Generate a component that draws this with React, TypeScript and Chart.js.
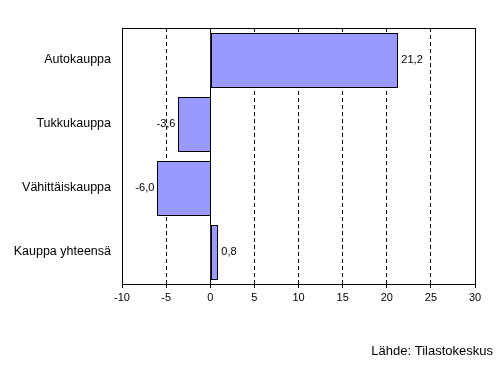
import React, { useEffect, useRef } from "react";
import { Chart, registerables } from "chart.js";

Chart.register(...registerables);

const categories = ["Autokauppa", "Tukkukauppa", "Vähittäiskauppa", "Kauppa yhteensä"];
const values = [21.2, -3.6, -6.0, 0.8];
const xMin = -10;
const xMax = 30;
const xStep = 5;
const sourceText = "Lähde: Tilastokeskus";

const FONT = "'Liberation Sans', Arial, sans-serif";
const BAR_COLOR = "#9999FF";

const extrasPlugin = {
  id: "extras",
  beforeDatasetsDraw(chart: any) {
    const { ctx, chartArea, scales } = chart;
    const x0 = Math.round(scales.x.getPixelForValue(0)) + 0.5;
    ctx.save();
    ctx.strokeStyle = "#000";
    ctx.lineWidth = 1;
    ctx.setLineDash([]);
    ctx.beginPath();
    ctx.moveTo(x0, chartArea.top);
    ctx.lineTo(x0, chartArea.bottom);
    ctx.stroke();
    ctx.restore();
  },
  afterDatasetsDraw(chart: any) {
    const { ctx, chartArea } = chart;
    ctx.save();
    ctx.strokeStyle = "#000";
    ctx.lineWidth = 1;
    ctx.setLineDash([]);
    const meta = chart.getDatasetMeta(0);
    // crisp bar fills + outlines aligned to the pixel grid
    meta.data.forEach((bar: any) => {
      const l = Math.round(Math.min(bar.x, bar.base));
      const r = Math.round(Math.max(bar.x, bar.base));
      const t = Math.round(bar.y - bar.height / 2);
      const b = Math.round(bar.y + bar.height / 2);
      ctx.fillStyle = BAR_COLOR;
      ctx.fillRect(l, t, r - l + 1, b - t + 1);
      ctx.strokeRect(l + 0.5, t + 0.5, r - l, b - t);
    });
    ctx.strokeRect(
      Math.round(chartArea.left) + 0.5,
      Math.round(chartArea.top) + 0.5,
      Math.round(chartArea.right - chartArea.left),
      Math.round(chartArea.bottom - chartArea.top)
    );
    // value labels
    ctx.font = `11px ${FONT}`;
    ctx.fillStyle = "#000";
    ctx.textBaseline = "middle";
    meta.data.forEach((bar: any, i: number) => {
      const v = values[i];
      const txt = v.toFixed(1).replace(".", ",");
      if (v >= 0) {
        ctx.textAlign = "left";
        ctx.fillText(txt, bar.x + 4, bar.y);
      } else {
        ctx.textAlign = "right";
        ctx.fillText(txt, bar.x - 3, bar.y);
      }
    });
    // source
    ctx.font = `13px ${FONT}`;
    ctx.textAlign = "right";
    ctx.fillText(sourceText, 493, 351);
    ctx.restore();
  },
};

export default function App() {
  const ref = useRef<HTMLCanvasElement>(null);
  useEffect(() => {
    if (!ref.current) return;
    const chart = new Chart(ref.current, {
      type: "bar",
      data: {
        labels: categories,
        datasets: [
          {
            data: values,
            backgroundColor: BAR_COLOR,
            borderWidth: 0,
            barPercentage: 0.83,
            categoryPercentage: 1,
          },
        ],
      },
      options: {
        indexAxis: "y",
        animation: false,
        responsive: false,
        maintainAspectRatio: false,
        layout: { padding: { left: 0, right: 28, top: 28, bottom: 67 } },
        plugins: { legend: { display: false }, tooltip: { enabled: false } },
        scales: {
          x: {
            min: xMin,
            max: xMax,
            ticks: {
              stepSize: xStep,
              color: "#000",
              font: { family: FONT, size: 11 },
              padding: 3,
              maxRotation: 0,
            },
            grid: {
              color: "#000",
              lineWidth: 1,
              tickLength: 4,
              drawTicks: true,
              tickBorderDash: [],
            },
            border: { display: true, color: "#000", dash: [4, 3] },
            afterFit(scale: any) {
              scale.height = 20;
            },
          },
          y: {
            ticks: {
              color: "#000",
              font: { family: FONT, size: 12.5 },
              padding: 11,
            },
            grid: { display: false, drawTicks: false },
            border: { display: false },
            afterFit(scale: any) {
              scale.width = 122;
            },
          },
        },
      },
      plugins: [extrasPlugin],
    });
    return () => chart.destroy();
  }, []);
  return (
    <div style={{ position: "fixed", left: 0, top: 0, width: 503, height: 371, background: "#fff" }}>
      <canvas ref={ref} width={503} height={371} style={{ width: 503, height: 371 }} />
    </div>
  );
}
